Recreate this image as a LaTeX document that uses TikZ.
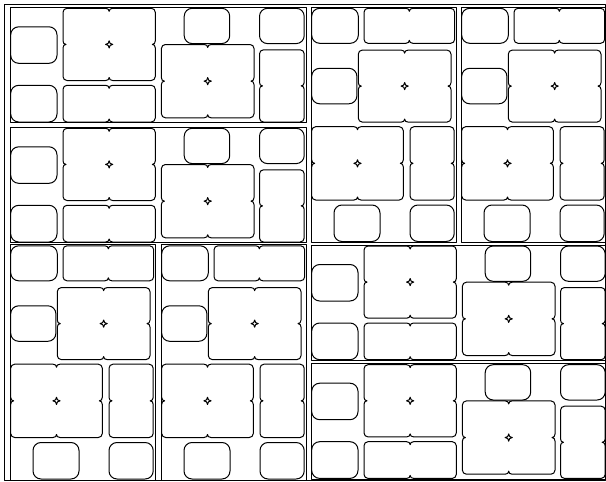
\documentclass[tikz,border=0pt]{standalone}
\usepackage{tikz}

\newcommand{\cornr}{4}
\newcommand{\nhw}{3.5}
\newcommand{\ndp}{3}
\newcommand{\srr}{3.6}
\newcommand{\sri}{1}

\newcommand{\notchbox}[6]{%
  \pgfmathsetmacro\bmx{(#1+#3)/2}%
  \pgfmathsetmacro\bmy{(#2+#4)/2}%
  \ifnum#5=1\relax
    \def\tnotch{-- (\bmx-\nhw,#2) .. controls (\bmx-0.4*\nhw,#2) and (\bmx,#2+0.4*\ndp) .. (\bmx,#2+\ndp) .. controls (\bmx,#2+0.4*\ndp) and (\bmx+0.4*\nhw,#2) .. (\bmx+\nhw,#2)}%
    \def\bnotch{-- (\bmx+\nhw,#4) .. controls (\bmx+0.4*\nhw,#4) and (\bmx,#4-0.4*\ndp) .. (\bmx,#4-\ndp) .. controls (\bmx,#4-0.4*\ndp) and (\bmx-0.4*\nhw,#4) .. (\bmx-\nhw,#4)}%
  \else
    \def\tnotch{}\def\bnotch{}%
  \fi
  \ifnum#6=1\relax
    \def\rnotch{-- (#3,\bmy-\nhw) .. controls (#3,\bmy-0.4*\nhw) and (#3-0.4*\ndp,\bmy) .. (#3-\ndp,\bmy) .. controls (#3-0.4*\ndp,\bmy) and (#3,\bmy+0.4*\nhw) .. (#3,\bmy+\nhw)}%
    \def\lnotch{-- (#1,\bmy+\nhw) .. controls (#1,\bmy+0.4*\nhw) and (#1+0.4*\ndp,\bmy) .. (#1+\ndp,\bmy) .. controls (#1+0.4*\ndp,\bmy) and (#1,\bmy-0.4*\nhw) .. (#1,\bmy-\nhw)}%
  \else
    \def\rnotch{}\def\lnotch{}%
  \fi
  \draw (#1+\cornr,#2) \tnotch -- (#3-\cornr,#2)
    .. controls (#3-0.45*\cornr,#2) and (#3,#2+0.45*\cornr) .. (#3,#2+\cornr) \rnotch -- (#3,#4-\cornr)
    .. controls (#3,#4-0.45*\cornr) and (#3-0.45*\cornr,#4) .. (#3-\cornr,#4) \bnotch -- (#1+\cornr,#4)
    .. controls (#1+0.45*\cornr,#4) and (#1,#4-0.45*\cornr) .. (#1,#4-\cornr) \lnotch -- (#1,#2+\cornr)
    .. controls (#1,#2+0.45*\cornr) and (#1+0.45*\cornr,#2) .. (#1+\cornr,#2) -- cycle;%
}
\newcommand{\plainbox}[4]{\draw[rounded corners=\cornr] (#1,#2) rectangle (#3,#4);}
\newcommand{\starmark}[2]{\draw (#1+\srr,#2) -- (#1+\sri,#2+\sri) -- (#1,#2+\srr) -- (#1-\sri,#2+\sri) -- (#1-\srr,#2) -- (#1-\sri,#2-\sri) -- (#1,#2-\srr) -- (#1+\sri,#2-\sri) -- cycle;}
\newcommand{\starbox}[4]{\notchbox{#1}{#2}{#3}{#4}{1}{1}\starmark{\bmx}{\bmy}}

\newcommand{\unitA}[2]{%
  \begin{scope}[shift={(#1,#2)}]
    \draw (0,-1) rectangle (296,114.3);
    \plainbox{0}{18.5}{46.3}{55}
    \plainbox{0}{77}{46.3}{113.7}
    \starbox{52.3}{0}{144.6}{72.2}
    \notchbox{52.3}{77}{144.6}{113.7}{1}{0}
    \plainbox{173.5}{0}{219}{35.3}
    \plainbox{248.8}{0}{293.5}{35.3}
    \starbox{150.7}{36.2}{243.3}{109.5}
    \notchbox{248.8}{41.5}{293.5}{113.7}{0}{1}
  \end{scope}}
\newcommand{\unitB}[2]{%
  \begin{scope}[shift={(#1,#2)}]
    \draw (0,-1) rectangle (145,234.2);
    \plainbox{0}{0}{46.6}{35}
    \notchbox{52.3}{0}{143}{35}{1}{0}
    \plainbox{0}{60}{45.2}{95.5}
    \starbox{46.6}{41.8}{139.3}{113.8}
    \starbox{0}{118.4}{91.6}{191.7}
    \notchbox{98.3}{118.4}{142.5}{191.7}{0}{1}
    \plainbox{22.3}{196.7}{68.3}{233.2}
    \plainbox{98.3}{196.7}{142.5}{233.2}
  \end{scope}}

\begin{document}
\begin{tikzpicture}[x=0.5pt,y=-0.5pt,line width=0.5pt,line join=round]
\useasboundingbox (0,0) rectangle (606,482);
\draw (4.7,4) rectangle (605.5,480.5);
\unitA{10.7}{8.3}
\unitA{10.7}{128.3}
\unitB{311.7}{8.3}
\unitB{461.7}{8.3}
\unitB{10.7}{245.8}
\unitB{161.7}{245.8}
\unitA{311.7}{246}
\unitA{311.7}{364.7}
\end{tikzpicture}
\end{document}
